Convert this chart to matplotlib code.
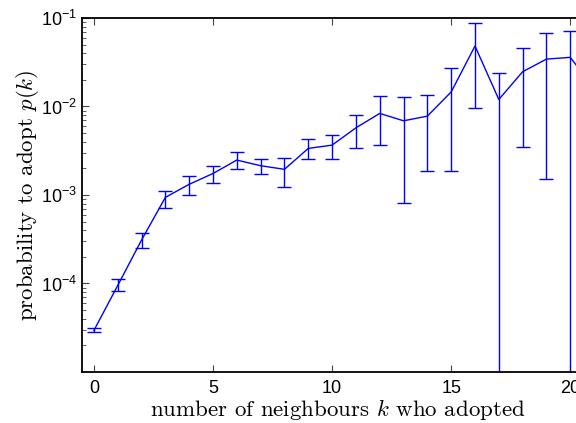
import matplotlib
matplotlib.use("Agg")
import matplotlib.pyplot as plt
from matplotlib.ticker import LogLocator, NullFormatter

plt.rcParams["font.family"] = "Liberation Sans"
plt.rcParams["mathtext.fontset"] = "cm"

# number of adopted neighbours and estimated adoption probability
k = [0, 1, 2, 3, 4, 5, 6, 7, 8, 9, 10, 11, 12, 13, 14, 15, 16, 17, 18, 19, 20, 21]
p = [2.95e-5, 9.5e-5, 3.1e-4, 9.4e-4, 1.32e-3, 1.75e-3, 2.48e-3, 2.14e-3,
     1.95e-3, 3.36e-3, 3.66e-3, 5.74e-3, 8.35e-3, 6.89e-3, 7.78e-3, 1.46e-2,
     4.82e-2, 1.2e-2, 2.47e-2, 3.43e-2, 3.59e-2, 1.6e-2]
p_hi = [3.1e-5, 1.12e-4, 3.7e-4, 1.11e-3, 1.64e-3, 2.14e-3, 3.08e-3, 2.52e-3,
        2.63e-3, 4.25e-3, 4.79e-3, 8.05e-3, 1.32e-2, 1.29e-2, 1.35e-2, 2.7e-2,
        8.77e-2, 2.37e-2, 4.54e-2, 6.71e-2, 7.13e-2, 3.0e-2]
# lower ends; a negative value means the bar runs off the bottom of the plot
p_lo = [2.8e-5, 8.3e-5, 2.5e-4, 7.2e-4, 1.0e-3, 1.36e-3, 1.95e-3, 1.72e-3,
        1.24e-3, 2.52e-3, 2.52e-3, 3.36e-3, 3.66e-3, 8.15e-4, 1.89e-3, 1.86e-3,
        9.66e-3, -1e-2, 3.5e-3, 1.51e-3, -1e-2, 2e-3]

err = [[pi - lo for pi, lo in zip(p, p_lo)], [hi - pi for pi, hi in zip(p, p_hi)]]

fig = plt.figure(figsize=(5.76, 4.23), dpi=100)
ax = fig.add_axes([0.1424, 0.1206, 0.889, 0.8369])

ax.set_yscale("log", nonpositive="clip")
ax.errorbar(k, p, yerr=err, color="#0000ff", lw=1.0, elinewidth=1.0,
            capsize=4.7, capthick=1.0)

ax.set_xlim(-0.5, 21)
ax.set_ylim(1e-5, 1e-1)
ax.set_xticks([0, 5, 10, 15, 20])
ax.set_yticks([1e-4, 1e-3, 1e-2, 1e-1])
ax.yaxis.set_minor_locator(LogLocator(base=10, subs=range(2, 10), numticks=20))
ax.yaxis.set_minor_formatter(NullFormatter())

ax.tick_params(which="both", direction="in", top=True, right=True,
               labelsize=13, color="#444444")
ax.tick_params(which="major", length=5)
ax.tick_params(axis="x", which="major", pad=6)
ax.tick_params(which="minor", length=3)
for s in ax.spines.values():
    s.set_linewidth(1.3)

ax.set_xlabel(r"number of neighbours $k$ who adopted", fontfamily="cmr10",
              fontsize=16.5, labelpad=0)
ax.set_ylabel(r"probability to adopt $p(k)$", fontfamily="cmr10",
              fontsize=16.5, labelpad=0)

fig.savefig("out.png", dpi=100)
